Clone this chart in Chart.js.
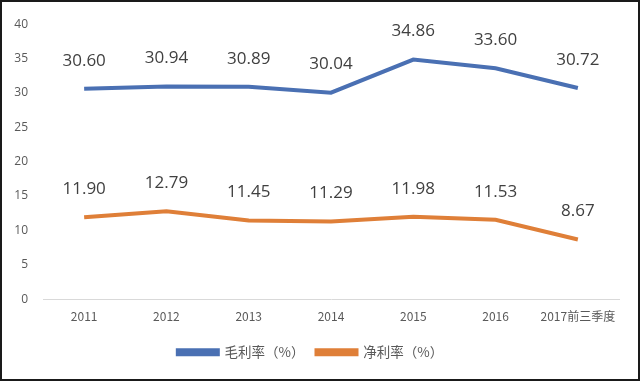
<!DOCTYPE html>
<html><head><meta charset="utf-8">
<script src="https://cdn.jsdelivr.net/npm/chart.js@4"></script>
<style>
html,body{margin:0;padding:0;background:#fff;}
#wrap{position:relative;width:640px;height:381px;box-sizing:border-box;border:2px solid #1a1a1a;background:#fff;}
</style></head>
<body><div id="wrap"><canvas id="c"></canvas></div>
<script>
const categories = ['2011','2012','2013','2014','2015','2016','2017前三季度'];
const grossMargin = [30.60, 30.94, 30.89, 30.04, 34.86, 33.60, 30.72];
const netMargin = [11.90, 12.79, 11.45, 11.29, 11.98, 11.53, 8.67];
const seriesNames = ['毛利率（%）', '净利率（%）'];
const yTicks = [0,5,10,15,20,25,30,35,40];

const labelPlugin = {
  id: 'valueLabels',
  afterDatasetsDraw(chart) {
    const ctx = chart.ctx;
    ctx.save();
    ctx.font = '17px "Open Sans", "Noto Sans", sans-serif';
    ctx.fillStyle = '#404040';
    ctx.textAlign = 'center';
    ctx.textBaseline = 'middle';
    chart.data.datasets.forEach((ds, i) => {
      const meta = chart.getDatasetMeta(i);
      meta.data.forEach((pt, j) => {
        ctx.fillText(ds.data[j].toFixed(2), pt.x, pt.y - 28);
      });
    });
    ctx.restore();
  }
};

new Chart(document.getElementById('c'), {
  type: 'line',
  data: {
    labels: categories,
    datasets: [
      { label: seriesNames[0], data: grossMargin, borderColor: '#4a70b3', backgroundColor: '#4a70b3', borderWidth: 4, pointRadius: 0, tension: 0 },
      { label: seriesNames[1], data: netMargin, borderColor: '#df7f38', backgroundColor: '#df7f38', borderWidth: 4, pointRadius: 0, tension: 0 }
    ]
  },
  options: {
    responsive: true,
    maintainAspectRatio: false,
    animation: false,
    layout: { padding: { left: 0, right: 19, top: 16, bottom: 10 } },
    plugins: {
      legend: {
        position: 'bottom',
        labels: {
          boxWidth: 40, boxHeight: 4, padding: 12,
          color: '#595959',
          font: { size: 13.5, family: '"Noto Sans CJK SC", sans-serif' }
        }
      },
      tooltip: { enabled: false }
    },
    scales: {
      x: {
        offset: true,
        grid: { display: false, drawTicks: false },
        border: { display: true, color: '#d9d9d9', width: 1 },
        ticks: { color: '#595959', padding: 10, font: { size: 12, family: '"Noto Sans CJK SC", sans-serif' }, maxRotation: 0, autoSkip: false }
      },
      y: {
        min: 0, max: 40,
        afterBuildTicks(scale) { scale.ticks = yTicks.map(v => ({ value: v })); },
        afterFit(scale) { scale.width = 41; },
        grid: { display: false, drawTicks: false },
        border: { display: false },
        ticks: { color: '#595959', padding: 15, font: { size: 12, family: '"Open Sans", sans-serif' } }
      }
    }
  },
  plugins: [labelPlugin]
});
</script></body></html>
